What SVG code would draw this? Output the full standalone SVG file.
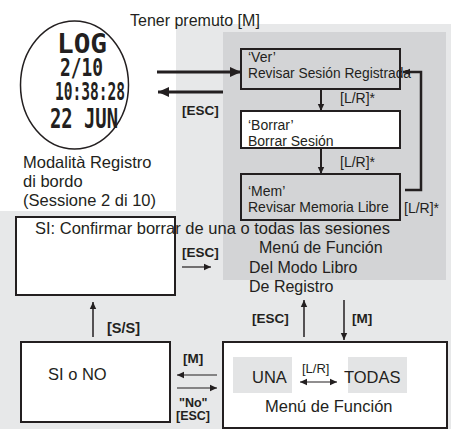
<svg xmlns="http://www.w3.org/2000/svg" width="451" height="429" viewBox="0 0 451 429">
<style>
text{font-family:"Liberation Sans",Arial,sans-serif;fill:#231f20}
.b{font-weight:bold}
.lcd{font-family:"DejaVu Sans Mono","Liberation Mono",monospace;font-weight:bold}
.box{stroke:#231f20;stroke-width:2}
.ln{stroke:#231f20;fill:none}
</style>
<defs>
<marker id="ah" markerUnits="userSpaceOnUse" markerWidth="8" markerHeight="8" refX="7" refY="4" orient="auto"><path d="M0,0.8 L7,4 L0,7.2 Z" fill="#231f20"/></marker>
<marker id="ahs" markerUnits="userSpaceOnUse" markerWidth="8" markerHeight="8" refX="7" refY="4" orient="auto-start-reverse"><path d="M0,0.8 L7,4 L0,7.2 Z" fill="#231f20"/></marker>
<marker id="ahb" markerUnits="userSpaceOnUse" markerWidth="12" markerHeight="12" refX="11" refY="6" orient="auto"><path d="M0,1 L11,6 L0,11 Z" fill="#231f20"/></marker>
</defs>
<g id="background">
<rect x="0" y="0" width="451" height="429" fill="#ffffff"/>
<path d="M176,24 H451 V429 H0 V211 H176 Z" fill="#e7e8e9"/>
<rect x="223" y="32" width="223" height="248" fill="#d3d4d6"/>
</g>
<g id="log-display">
<ellipse cx="74.5" cy="85" rx="54" ry="64" fill="#ffffff" stroke="#231f20" stroke-width="1.5"/>
<text class="lcd" x="57" y="53" font-size="27" textLength="50" lengthAdjust="spacingAndGlyphs">LOG</text>
<text class="lcd" x="60" y="76" font-size="24" textLength="43" lengthAdjust="spacingAndGlyphs">2/10</text>
<text class="lcd" x="55" y="100" font-size="24" textLength="70" lengthAdjust="spacingAndGlyphs">10:38:28</text>
<text class="lcd" x="50" y="128" font-size="27" textLength="68" lengthAdjust="spacingAndGlyphs">22 JUN</text>
<text x="23" y="168" font-size="16.5">Modalità Registro</text>
<text x="23" y="187" font-size="16.5">di bordo</text>
<text x="23" y="206" font-size="16.5">(Sessione 2 di 10)</text>
</g>
<text id="hold-label" x="130" y="26" font-size="16">Tener premuto [M]</text>
<g id="node-ver">
<rect class="box" x="241" y="49" width="159" height="40" fill="#d3d4d6"/>
<text x="248" y="62" font-size="14">‘Ver’</text>
<text x="248" y="78" font-size="14" textLength="163" lengthAdjust="spacingAndGlyphs">Revisar Sesión Registrada</text>
</g>
<g id="node-borrar">
<rect class="box" x="241" y="111" width="159" height="37" fill="#ffffff"/>
<text x="248" y="130" font-size="14">‘Borrar’</text>
<text x="248" y="146" font-size="14">Borrar Sesión</text>
</g>
<g id="node-mem">
<rect class="box" x="241" y="174" width="159" height="46" fill="#d3d4d6"/>
<text x="248" y="196" font-size="14">‘Mem’</text>
<text x="248" y="212" font-size="14">Revisar Memoria Libre</text>
</g>
<g id="node-log-menu">
<text x="259" y="253" font-size="16">Menú de Función</text>
<text x="249" y="273" font-size="16">Del Modo Libro</text>
<text x="249" y="292" font-size="16">De Registro</text>
</g>
<g id="node-confirm">
<rect class="box" x="16" y="217" width="159" height="78" fill="#ffffff"/>
<text x="35" y="234" font-size="16.5">SI: Confirmar borrar de una o todas las sesiones</text>
</g>
<g id="node-sino">
<rect class="box" x="21" y="342" width="149" height="80" fill="#ffffff"/>
<text x="48" y="380" font-size="16.5">SI o NO</text>
</g>
<g id="node-func-menu">
<rect class="box" x="223" y="342" width="224" height="86" fill="#ffffff"/>
<rect x="233" y="357" width="59" height="36" fill="#e3e4e5"/>
<rect x="348" y="357" width="59" height="36" fill="#e3e4e5"/>
<text x="252" y="383" font-size="16.5">UNA</text>
<text x="344" y="383" font-size="16.5">TODAS</text>
<text x="302" y="373" font-size="13">[L/R]</text>
<text x="265" y="412" font-size="16.5">Menú de Función</text>
</g>
<g id="connectors">
<line class="ln" x1="157" y1="72" x2="241" y2="72" stroke-width="3" marker-end="url(#ahb)"/>
<line class="ln" x1="223" y1="92" x2="158" y2="92" stroke-width="3" marker-end="url(#ahb)"/>
<text class="b" x="182" y="115" font-size="13.5">[ESC]</text>
<line class="ln" x1="321" y1="89" x2="321" y2="111" stroke-width="2" marker-end="url(#ah)"/>
<text x="340" y="103" font-size="14">[L/R]*</text>
<line class="ln" x1="321" y1="148" x2="321" y2="174" stroke-width="2" marker-end="url(#ah)"/>
<text x="340" y="167" font-size="14">[L/R]*</text>
<polyline class="ln" points="405,190 421,190 421,72 403,72" stroke-width="2.5" marker-end="url(#ah)"/>
<text x="404" y="213" font-size="14">[L/R]*</text>
<text class="b" x="182" y="257" font-size="13.5">[ESC]</text>
<line class="ln" x1="182" y1="267" x2="211" y2="267" stroke-width="1.2" marker-end="url(#ah)"/>
<line class="ln" x1="304" y1="337" x2="304" y2="300" stroke-width="1.5" marker-end="url(#ah)"/>
<text class="b" x="252" y="323" font-size="13.5">[ESC]</text>
<line class="ln" x1="344" y1="300" x2="344" y2="340" stroke-width="1.5" marker-end="url(#ah)"/>
<text class="b" x="352" y="323" font-size="13.5">[M]</text>
<line class="ln" x1="93" y1="337" x2="93" y2="302" stroke-width="1.5" marker-end="url(#ah)"/>
<text class="b" x="107" y="333" font-size="14.5">[S/S]</text>
<text class="b" x="183" y="363" font-size="13.5">[M]</text>
<line class="ln" x1="217" y1="375" x2="177" y2="375" stroke-width="1.2" marker-end="url(#ah)"/>
<line class="ln" x1="177" y1="388" x2="217" y2="388" stroke-width="1.2" marker-end="url(#ah)"/>
<text class="b" x="179" y="407" font-size="12.5">"No"</text>
<text class="b" x="176" y="420" font-size="12.5">[ESC]</text>
<line class="ln" x1="300" y1="382" x2="337" y2="382" stroke-width="1.2" marker-start="url(#ahs)" marker-end="url(#ah)"/>
</g>
</svg>
